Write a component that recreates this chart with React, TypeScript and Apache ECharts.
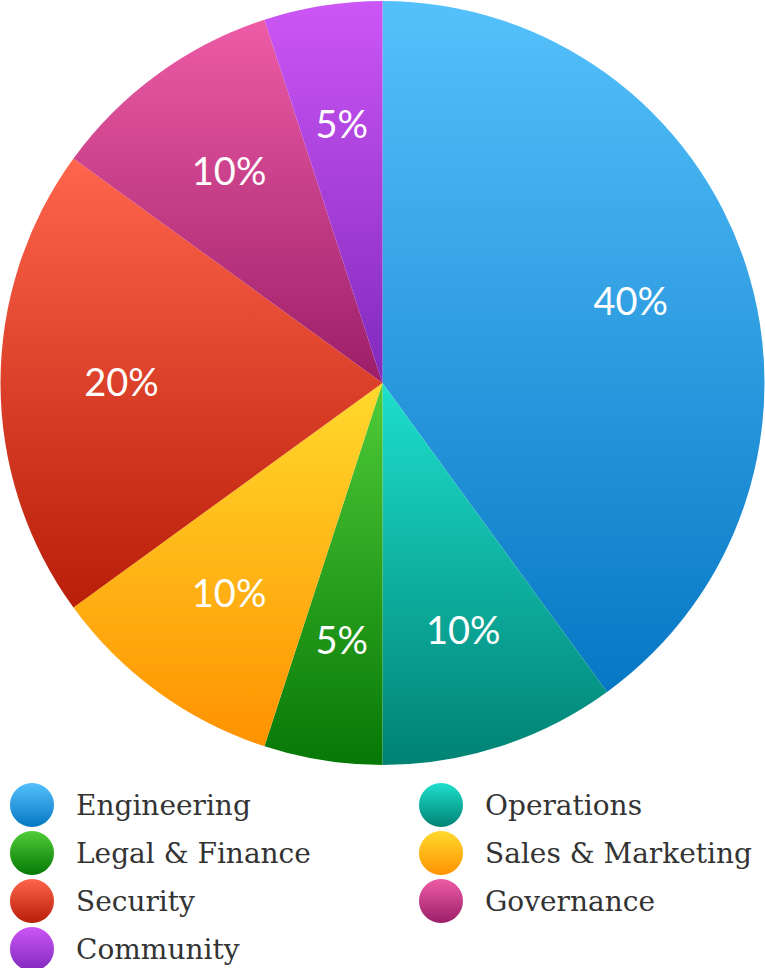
import React, { useEffect, useRef } from "react";
import * as echarts from "echarts";

const categories = [
  "Engineering",
  "Operations",
  "Legal & Finance",
  "Sales & Marketing",
  "Security",
  "Governance",
  "Community",
];
const values = [40, 10, 5, 10, 20, 10, 5];
const topColors = ["#55C1FC", "#1EDFCD", "#50CC38", "#FFD92E", "#FF644C", "#EE5CA6", "#CC56F6"];
const bottomColors = ["#0677C4", "#008274", "#067806", "#FF9200", "#B81E08", "#9C1E68", "#8129BC"];
const legendLeft = ["Engineering", "Legal & Finance", "Security", "Community"];
const legendRight = ["Operations", "Sales & Marketing", "Governance"];

export default function App() {
  const ref = useRef<HTMLDivElement>(null);
  useEffect(() => {
    if (!ref.current) return;
    const chart = echarts.init(ref.current, null, { renderer: "svg" });
    const data = categories.map((name, i) => ({
      name,
      value: values[i],
      itemStyle: {
        color: new echarts.graphic.LinearGradient(0, 0, 0, 1, [
          { offset: 0, color: topColors[i] },
          { offset: 1, color: bottomColors[i] },
        ]),
      },
    }));
    const legendCommon = {
      orient: "vertical" as const,
      icon: "circle",
      itemWidth: 44,
      itemHeight: 44,
      itemGap: 4,
      height: 200,
      selectedMode: false,
      textStyle: {
        fontFamily: "DejaVu Serif",
        fontSize: 28,
        color: "#333333",
        padding: [0, 0, 0, 17],
      },
    };
    chart.setOption({
      animation: false,
      legend: [
        { ...legendCommon, data: legendLeft, left: 5, top: 778 },
        { ...legendCommon, data: legendRight, left: 414, top: 778 },
      ],
      series: [
        {
          type: "pie",
          center: [382.5, 383],
          radius: [0, 382],
          startAngle: 90,
          clockwise: true,
          label: { show: false },
          labelLine: { show: false },
          silent: true,
          data,
        },
        {
          type: "pie",
          center: [382.5, 383],
          radius: [134, 382],
          startAngle: 90,
          clockwise: true,
          silent: true,
          itemStyle: { color: "rgba(0,0,0,0)" },
          label: {
            show: true,
            position: "inside",
            formatter: "{c}%",
            color: "#ffffff",
            fontFamily: "Lato",
            fontSize: 38,
            fontWeight: "normal",
            offset: [0, -2],
          },
          labelLine: { show: false },
          data: categories.map((name, i) => ({ name: name + " ", value: values[i] })),
        },
      ],
    });
    return () => chart.dispose();
  }, []);
  return (
    <div
      ref={ref}
      style={{ position: "fixed", left: 0, top: 0, width: 765, height: 968, background: "#ffffff" }}
    />
  );
}
